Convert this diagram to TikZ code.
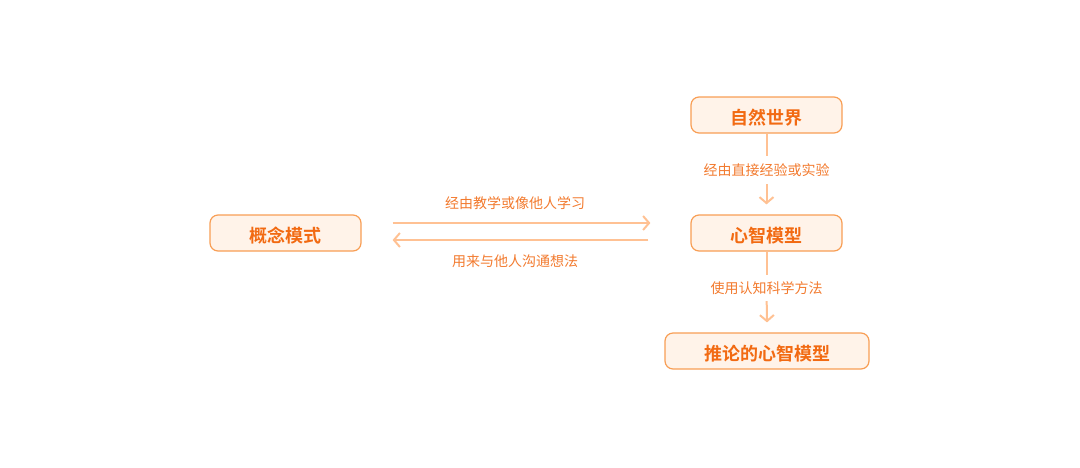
\documentclass[tikz,border=0pt]{standalone}
\usepackage{fontspec}
\setmainfont{Noto Sans CJK SC}
\newfontfamily\cjkb{Noto Sans CJK SC Bold}
\usetikzlibrary{arrows.meta}
\definecolor{boxline}{HTML}{F89E55}
\definecolor{boxfill}{HTML}{FFF3E9}
\definecolor{boxtext}{HTML}{F26A12}
\definecolor{arr}{HTML}{FFC193}
\definecolor{lbl}{HTML}{F27A2E}
\newcommand{\bx}[1]{\raisebox{-2.5pt}[\height][\depth]{#1}}
\tikzset{
  x=1pt,y=-1pt,
  box/.style={draw=boxline,fill=boxfill,line width=1.2pt,rounded corners=8pt,minimum height=36pt,
    text=boxtext,font=\cjkb\fontsize{18}{20}\selectfont,inner sep=0pt},
  lab/.style={text=lbl,font=\fontsize{14}{16}\selectfont,inner xsep=0pt,inner ysep=0pt},
  conn/.style={draw=arr,line width=2pt},
  tip/.style={-{Straight Barb[length=6pt,width=14pt,line width=2pt]}}
}
\begin{document}
\begin{tikzpicture}
\useasboundingbox (0,0) rectangle (1080,467);
\node[box,minimum width=151pt] (g) at (285.5,233) {\bx{概念模式}};
\node[box,minimum width=151pt] (n) at (766.5,115) {\bx{自然世界}};
\node[box,minimum width=151pt] (m) at (766.5,233) {\bx{心智模型}};
\node[box,minimum width=204pt] (r) at (767,351) {\bx{推论的心智模型}};
\node[lab,minimum height=28pt] (l1) at (766.5,170) {经由直接经验或实验};
\node[lab,minimum height=26pt] (l2) at (766.5,288) {使用认知科学方法};
\node[lab] (t1) at (515,203) {经由教学或像他人学习};
\node[lab] (t2) at (515,261) {用来与他人沟通想法};
\draw[conn] (n) -- (l1);
\draw[conn,tip] (l1) -- ([yshift=10pt]m.north);
\draw[conn] (m) -- (l2);
\draw[conn,tip] (l2) -- ([yshift=10pt]r.north);
\draw[conn,tip] ([xshift=31pt,yshift=10pt]g.east) -- ([xshift=-40pt,yshift=10pt]m.west);
\draw[conn,tip] ([xshift=-42pt,yshift=-7pt]m.west) -- ([xshift=31pt,yshift=-7pt]g.east);
\end{tikzpicture}
\end{document}
